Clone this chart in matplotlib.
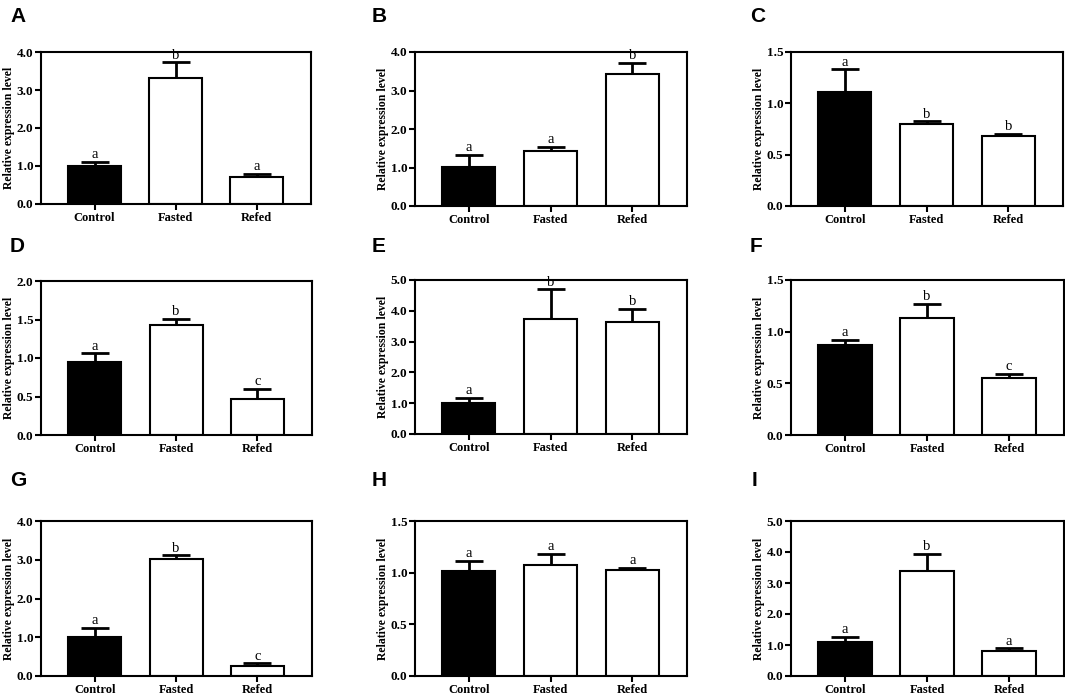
import numpy as np
import matplotlib
matplotlib.use('Agg')
import matplotlib.pyplot as plt
from matplotlib.ticker import FormatStrFormatter

groups = ['Control', 'Fasted', 'Refed']
panel_names = ['A', 'B', 'C', 'D', 'E', 'F', 'G', 'H', 'I']

# mean values per panel (Control, Fasted, Refed)
means_A = [1.00, 3.32, 0.72]
means_B = [1.01, 1.42, 3.43]
means_C = [1.11, 0.80, 0.68]
means_D = [0.95, 1.43, 0.47]
means_E = [1.00, 3.74, 3.65]
means_F = [0.87, 1.13, 0.55]
means_G = [1.00, 3.02, 0.27]
means_H = [1.02, 1.07, 1.03]
means_I = [1.10, 3.39, 0.81]

# top of error bar per panel
tops_A = [1.11, 3.73, 0.80]
tops_B = [1.33, 1.53, 3.71]
tops_C = [1.33, 0.825, 0.705]
tops_D = [1.06, 1.51, 0.60]
tops_E = [1.17, 4.70, 4.06]
tops_F = [0.92, 1.27, 0.59]
tops_G = [1.235, 3.11, 0.33]
tops_H = [1.115, 1.185, 1.047]
tops_I = [1.27, 3.93, 0.89]

letters_A = ['a', 'b', 'a']
letters_B = ['a', 'a', 'b']
letters_C = ['a', 'b', 'b']
letters_D = ['a', 'b', 'c']
letters_E = ['a', 'b', 'b']
letters_F = ['a', 'b', 'c']
letters_G = ['a', 'b', 'c']
letters_H = ['a', 'a', 'a']
letters_I = ['a', 'b', 'a']

ymax = [4.0, 4.0, 1.5, 2.0, 5.0, 1.5, 4.0, 1.5, 5.0]
ystep = [1.0, 1.0, 0.5, 0.5, 1.0, 0.5, 1.0, 0.5, 1.0]

means = [means_A, means_B, means_C, means_D, means_E, means_F, means_G, means_H, means_I]
tops = [tops_A, tops_B, tops_C, tops_D, tops_E, tops_F, tops_G, tops_H, tops_I]
letters = [letters_A, letters_B, letters_C, letters_D, letters_E, letters_F,
           letters_G, letters_H, letters_I]

W, H = 1065, 697
fig = plt.figure(figsize=(W / 100, H / 100), dpi=100)

# axes boxes in pixels: left, top, right, bottom
boxes = [(41, 52, 311, 204), (415, 52, 687, 206), (791, 52, 1063, 206),
         (41, 281, 312, 435), (415, 280, 687, 434), (791, 280, 1064, 435),
         (41, 521, 312, 676), (415, 521, 687, 676), (791, 521, 1064, 676)]
label_pos = [(10, 22), (372, 22), (750, 22),
             (10, 252), (372, 252), (750, 252),
             (10, 486), (372, 486), (752, 486)]

serif = 'Liberation Serif'
x = np.arange(3)

for i in range(9):
    l, t, r, b = boxes[i]
    ax = fig.add_axes([l / W, 1 - b / H, (r - l) / W, (b - t) / H])
    m = np.array(means[i])
    e = np.array(tops[i]) - m
    ax.bar(x, m, width=0.65, color=['black', 'white', 'white'],
           edgecolor='black', linewidth=1.5, zorder=2)
    ax.errorbar(x, m, yerr=[np.zeros(3), e], fmt='none', ecolor='black',
                elinewidth=2, capsize=10, capthick=2, zorder=1)
    for j in range(3):
        ax.annotate(letters[i][j], (x[j], tops[i][j]), xytext=(0, 0.5),
                    textcoords='offset points', ha='center', va='bottom',
                    fontsize=10.5, family=serif)
    ax.set_xlim(-0.66, 2.67)
    ax.set_ylim(0, ymax[i])
    ax.set_yticks(np.arange(0, ymax[i] + 0.01, ystep[i]))
    ax.yaxis.set_major_formatter(FormatStrFormatter('%.1f'))
    ax.set_xticks(x)
    ax.set_xticklabels(groups)
    for lab in ax.get_xticklabels():
        lab.set_fontfamily(serif)
        lab.set_fontweight('bold')
        lab.set_fontsize(9)
    for lab in ax.get_yticklabels():
        lab.set_fontfamily(serif)
        lab.set_fontweight('bold')
        lab.set_fontsize(9.5)
    ax.tick_params(width=1.5, length=4, pad=1.5)
    for s in ax.spines.values():
        s.set_linewidth(1.5)
    ax.set_ylabel('Relative expression level', family=serif, fontweight='bold',
                  fontsize=8.5, labelpad=1.5)
    fig.text(label_pos[i][0] / W, 1 - label_pos[i][1] / H, panel_names[i],
             family='Liberation Sans', fontweight='bold', fontsize=15)

fig.savefig('out.png', dpi=100)
